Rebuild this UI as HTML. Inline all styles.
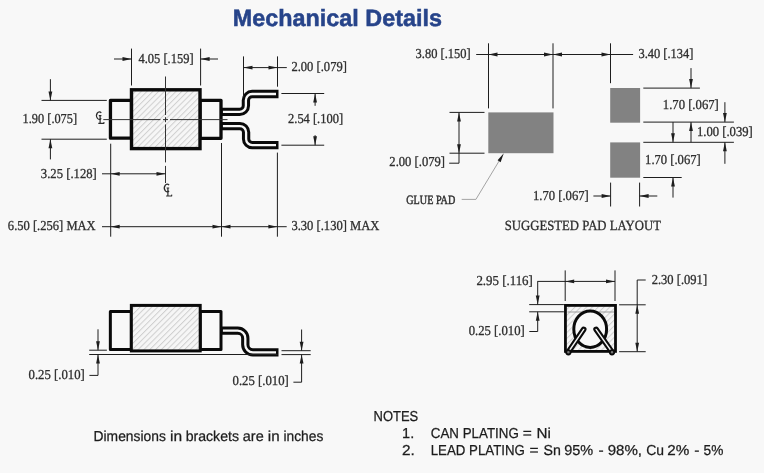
<!DOCTYPE html>
<html><head><meta charset="utf-8"><style>
html,body{margin:0;padding:0;background:#f8f8f8;width:764px;height:473px;overflow:hidden}
svg{display:block;will-change:transform;text-rendering:geometricPrecision}
</style></head><body>
<svg width="764" height="473" viewBox="0 0 764 473">
<defs>
<pattern id="hatch" patternUnits="userSpaceOnUse" width="4.1" height="4.1" patternTransform="rotate(45)">
<rect width="4.1" height="4.1" fill="#f6f6f6"/>
<line x1="0.5" y1="0" x2="0.5" y2="4.1" stroke="#cfcfcf" stroke-width="1"/>
</pattern>
</defs>
<rect width="764" height="473" fill="#f8f8f8"/>
<text transform="translate(232.82,25.9) scale(0.9945,1)" font-family="Liberation Sans" font-size="23.5" font-weight="bold" fill="#27448a" stroke="#27448a" stroke-width="0.5">Mechanical Details</text>
<path d="M 221.0 111.9 L 239.70 111.9 C 243.12 111.9 245.90 109.12 245.90 105.70 L 245.90 100.20 C 245.90 96.78 248.68 94.0 252.10 94.0 L 278.5 94.0" fill="none" stroke="#0a0a0a" stroke-width="8.3"/>
<path d="M 222.8 111.9 L 239.70 111.9 C 243.12 111.9 245.90 109.12 245.90 105.70 L 245.90 100.20 C 245.90 96.78 248.68 94.0 252.10 94.0 L 276.0 94.0" fill="none" stroke="#f8f8f8" stroke-width="2.3"/>
<path d="M 221.0 126.1 L 239.90 126.1 C 243.32 126.1 246.10 128.88 246.10 132.30 L 246.10 139.00 C 246.10 142.42 248.88 145.2 252.30 145.2 L 278.5 145.2" fill="none" stroke="#0a0a0a" stroke-width="8.3"/>
<path d="M 222.8 126.1 L 239.90 126.1 C 243.32 126.1 246.10 128.88 246.10 132.30 L 246.10 139.00 C 246.10 142.42 248.88 145.2 252.30 145.2 L 276.0 145.2" fill="none" stroke="#f8f8f8" stroke-width="2.3"/>
<rect x="110.45" y="100.3" width="21.05" height="37.9" fill="none" stroke="#0a0a0a" stroke-width="3.3" stroke-linejoin="round"/>
<rect x="200" y="100.3" width="21" height="38" fill="none" stroke="#0a0a0a" stroke-width="3.3" stroke-linejoin="round"/>
<rect x="131.5" y="89.8" width="68.5" height="58.8" fill="url(#hatch)" stroke="#0a0a0a" stroke-width="3.4"/>
<line x1="103.3" y1="119.6" x2="160.5" y2="119.6" stroke="#333" stroke-width="1" />
<line x1="163" y1="119.6" x2="168" y2="119.6" stroke="#333" stroke-width="1" />
<line x1="170" y1="119.6" x2="227.5" y2="119.6" stroke="#333" stroke-width="1" />
<line x1="165.5" y1="76.5" x2="165.5" y2="115" stroke="#333" stroke-width="1" />
<line x1="165.5" y1="117.2" x2="165.5" y2="122.2" stroke="#333" stroke-width="1" />
<line x1="165.5" y1="124.4" x2="165.5" y2="162.4" stroke="#333" stroke-width="1" />
<line x1="165.5" y1="165.9" x2="165.5" y2="183" stroke="#333" stroke-width="1" />
<g fill="none" stroke="#2a2a2a"><path d="M 101.27 112.78 A 2.8 3.8 0 1 0 101.27 118.42" stroke-width="1.25"/><path d="M 100.1 115.6 L 100.1 123.4 M 98.8 115.6 L 101.4 115.6" stroke-width="1.2"/><path d="M 98.3 123.4 L 103.8 123.4 L 104 122" stroke-width="1.1"/></g>
<g fill="none" stroke="#2a2a2a"><path d="M 169.07 185.18 A 2.8 3.8 0 1 0 169.07 190.82" stroke-width="1.25"/><path d="M 167.9 188 L 167.9 196 M 166.6 188 L 169.2 188" stroke-width="1.2"/><path d="M 166.1 196 L 171.6 196 L 171.8 194.6" stroke-width="1.1"/></g>
<line x1="131.5" y1="48.6" x2="131.5" y2="85.5" stroke="#1e1e1e" stroke-width="1" />
<line x1="200.6" y1="48.6" x2="200.6" y2="85.5" stroke="#1e1e1e" stroke-width="1" />
<line x1="114" y1="59" x2="131.5" y2="59" stroke="#1e1e1e" stroke-width="1" />
<polygon points="131.5,59 122.5,57.1 122.5,60.9" fill="#1e1e1e"/>
<line x1="218" y1="59" x2="200.6" y2="59" stroke="#1e1e1e" stroke-width="1" />
<polygon points="200.6,59 209.6,57.1 209.6,60.9" fill="#1e1e1e"/>
<text transform="translate(138.45,62.6) scale(0.9136,1)" font-family="Liberation Serif" font-size="13.7" fill="#2e2e2e" stroke="#2e2e2e" stroke-width="0.3">4.05 [.159]</text>
<line x1="243.5" y1="56.4" x2="243.5" y2="97" stroke="#1e1e1e" stroke-width="1" />
<line x1="277.5" y1="56.4" x2="277.5" y2="86.7" stroke="#1e1e1e" stroke-width="1" />
<line x1="243.5" y1="67.6" x2="286.8" y2="67.6" stroke="#1e1e1e" stroke-width="1" />
<polygon points="243.5,67.6 252.5,65.7 252.5,69.5" fill="#1e1e1e"/>
<polygon points="277.5,67.6 268.5,65.7 268.5,69.5" fill="#1e1e1e"/>
<text transform="translate(291.43,71.4) scale(0.9172,1)" font-family="Liberation Serif" font-size="13.7" fill="#2e2e2e" stroke="#2e2e2e" stroke-width="0.3">2.00 [.079]</text>
<line x1="41.5" y1="100.4" x2="106.8" y2="100.4" stroke="#1e1e1e" stroke-width="1" />
<line x1="41.5" y1="139.2" x2="106.8" y2="139.2" stroke="#1e1e1e" stroke-width="1" />
<line x1="50.4" y1="79.2" x2="50.4" y2="100.4" stroke="#1e1e1e" stroke-width="1" />
<polygon points="50.4,100.4 48.5,91.4 52.3,91.4" fill="#1e1e1e"/>
<line x1="50.4" y1="159.4" x2="50.4" y2="139.2" stroke="#1e1e1e" stroke-width="1" />
<polygon points="50.4,139.2 48.5,148.2 52.3,148.2" fill="#1e1e1e"/>
<text transform="translate(22.62,122.8) scale(0.9006,1)" font-family="Liberation Serif" font-size="13.7" fill="#2e2e2e" stroke="#2e2e2e" stroke-width="0.3">1.90 [.075]</text>
<line x1="281.4" y1="93.5" x2="324.2" y2="93.5" stroke="#1e1e1e" stroke-width="1" />
<line x1="281.4" y1="145.2" x2="324.2" y2="145.2" stroke="#1e1e1e" stroke-width="1" />
<line x1="315.1" y1="93.5" x2="315.1" y2="105.8" stroke="#1e1e1e" stroke-width="1" />
<polygon points="315.1,93.5 313.2,102.5 317,102.5" fill="#1e1e1e"/>
<line x1="315.1" y1="135.2" x2="315.1" y2="145.2" stroke="#1e1e1e" stroke-width="1" />
<polygon points="315.1,145.2 313.2,136.2 317,136.2" fill="#1e1e1e"/>
<text transform="translate(288.04,122.6) scale(0.9104,1)" font-family="Liberation Serif" font-size="13.7" fill="#2e2e2e" stroke="#2e2e2e" stroke-width="0.3">2.54 [.100]</text>
<line x1="110.7" y1="143.7" x2="110.7" y2="236.7" stroke="#1e1e1e" stroke-width="1" />
<line x1="221.5" y1="143" x2="221.5" y2="236.7" stroke="#1e1e1e" stroke-width="1" />
<line x1="277.4" y1="152.6" x2="277.4" y2="236.7" stroke="#1e1e1e" stroke-width="1" />
<line x1="102" y1="173.8" x2="165.5" y2="173.8" stroke="#1e1e1e" stroke-width="1" />
<polygon points="110.7,173.8 119.7,171.9 119.7,175.7" fill="#1e1e1e"/>
<polygon points="165.5,173.8 156.5,171.9 156.5,175.7" fill="#1e1e1e"/>
<text transform="translate(40.8,177.9) scale(0.9262,1)" font-family="Liberation Serif" font-size="13.7" fill="#2e2e2e" stroke="#2e2e2e" stroke-width="0.3">3.25 [.128]</text>
<line x1="102" y1="226.7" x2="286.7" y2="226.7" stroke="#1e1e1e" stroke-width="1" />
<polygon points="110.7,226.7 119.7,224.8 119.7,228.6" fill="#1e1e1e"/>
<polygon points="221.5,226.7 212.5,224.8 212.5,228.6" fill="#1e1e1e"/>
<polygon points="221.5,226.7 230.5,224.8 230.5,228.6" fill="#1e1e1e"/>
<polygon points="277.4,226.7 268.4,224.8 268.4,228.6" fill="#1e1e1e"/>
<text transform="translate(7.87,230.1) scale(0.9161,1)" font-family="Liberation Serif" font-size="13.7" fill="#2e2e2e" stroke="#2e2e2e" stroke-width="0.3">6.50 [.256] MAX</text>
<text transform="translate(291.4,230.3) scale(0.9178,1)" font-family="Liberation Serif" font-size="13.7" fill="#2e2e2e" stroke="#2e2e2e" stroke-width="0.3">3.30 [.130] MAX</text>
<rect x="488.3" y="112.4" width="65.2" height="40.8" fill="#828282"/>
<rect x="610.2" y="88.0" width="29.9" height="34.7" fill="#828282"/>
<rect x="610.2" y="142.4" width="29.9" height="35.3" fill="#828282"/>
<line x1="476.2" y1="54.5" x2="633.1" y2="54.5" stroke="#1e1e1e" stroke-width="1" />
<line x1="488.5" y1="43.3" x2="488.5" y2="108.4" stroke="#1e1e1e" stroke-width="1" />
<line x1="553" y1="43.3" x2="553" y2="108.4" stroke="#1e1e1e" stroke-width="1" />
<line x1="610.5" y1="43.3" x2="610.5" y2="83.2" stroke="#1e1e1e" stroke-width="1" />
<polygon points="488.5,54.5 497.5,52.6 497.5,56.4" fill="#1e1e1e"/>
<polygon points="553,54.5 544,52.6 544,56.4" fill="#1e1e1e"/>
<polygon points="553,54.5 562,52.6 562,56.4" fill="#1e1e1e"/>
<polygon points="610.5,54.5 601.5,52.6 601.5,56.4" fill="#1e1e1e"/>
<text transform="translate(415.61,58.1) scale(0.9109,1)" font-family="Liberation Serif" font-size="13.7" fill="#2e2e2e" stroke="#2e2e2e" stroke-width="0.3">3.80 [.150]</text>
<text transform="translate(638.41,57.5) scale(0.9109,1)" font-family="Liberation Serif" font-size="13.7" fill="#2e2e2e" stroke="#2e2e2e" stroke-width="0.3">3.40 [.134]</text>
<line x1="449.5" y1="112.4" x2="484.5" y2="112.4" stroke="#1e1e1e" stroke-width="1" />
<line x1="449.5" y1="153.2" x2="484.5" y2="153.2" stroke="#1e1e1e" stroke-width="1" />
<line x1="459" y1="112.4" x2="459" y2="163.2" stroke="#1e1e1e" stroke-width="1" />
<polygon points="459,112.4 457.1,121.4 460.9,121.4" fill="#1e1e1e"/>
<polygon points="459,153.2 457.1,144.2 460.9,144.2" fill="#1e1e1e"/>
<line x1="449.2" y1="163.2" x2="459" y2="163.2" stroke="#1e1e1e" stroke-width="1" />
<text transform="translate(389.33,166.3) scale(0.9206,1)" font-family="Liberation Serif" font-size="13.7" fill="#2e2e2e" stroke="#2e2e2e" stroke-width="0.3">2.00 [.079]</text>
<line x1="643.3" y1="88.1" x2="699.9" y2="88.1" stroke="#1e1e1e" stroke-width="1" />
<line x1="643.3" y1="122.1" x2="733.9" y2="122.1" stroke="#1e1e1e" stroke-width="1" />
<line x1="643.3" y1="142.3" x2="733.9" y2="142.3" stroke="#1e1e1e" stroke-width="1" />
<line x1="643.3" y1="177.5" x2="681.7" y2="177.5" stroke="#1e1e1e" stroke-width="1" />
<line x1="691" y1="68.1" x2="691" y2="88.1" stroke="#1e1e1e" stroke-width="1" />
<polygon points="691,88.1 689.1,79.1 692.9,79.1" fill="#1e1e1e"/>
<line x1="691" y1="142.3" x2="691" y2="122.1" stroke="#1e1e1e" stroke-width="1" />
<polygon points="691,122.1 689.1,131.1 692.9,131.1" fill="#1e1e1e"/>
<text transform="translate(662.79,108.6) scale(0.9263,1)" font-family="Liberation Serif" font-size="13.7" fill="#2e2e2e" stroke="#2e2e2e" stroke-width="0.3">1.70 [.067]</text>
<line x1="724.9" y1="102.2" x2="724.9" y2="122.1" stroke="#1e1e1e" stroke-width="1" />
<polygon points="724.9,122.1 723,113.1 726.8,113.1" fill="#1e1e1e"/>
<line x1="724.9" y1="163.8" x2="724.9" y2="142.3" stroke="#1e1e1e" stroke-width="1" />
<polygon points="724.9,142.3 723,151.3 726.8,151.3" fill="#1e1e1e"/>
<text transform="translate(696.89,135.6) scale(0.9246,1)" font-family="Liberation Serif" font-size="13.7" fill="#2e2e2e" stroke="#2e2e2e" stroke-width="0.3">1.00 [.039]</text>
<line x1="673" y1="122.1" x2="673" y2="142.3" stroke="#1e1e1e" stroke-width="1" />
<polygon points="673,142.3 671.1,133.3 674.9,133.3" fill="#1e1e1e"/>
<line x1="673" y1="197.6" x2="673" y2="177.5" stroke="#1e1e1e" stroke-width="1" />
<polygon points="673,177.5 671.1,186.5 674.9,186.5" fill="#1e1e1e"/>
<text transform="translate(645.1,163.7) scale(0.9195,1)" font-family="Liberation Serif" font-size="13.7" fill="#2e2e2e" stroke="#2e2e2e" stroke-width="0.3">1.70 [.067]</text>
<line x1="610.6" y1="182.6" x2="610.6" y2="206.5" stroke="#1e1e1e" stroke-width="1" />
<line x1="639.6" y1="182.6" x2="639.6" y2="206.5" stroke="#1e1e1e" stroke-width="1" />
<line x1="593.4" y1="196" x2="610.6" y2="196" stroke="#1e1e1e" stroke-width="1" />
<polygon points="610.6,196 601.6,194.1 601.6,197.9" fill="#1e1e1e"/>
<line x1="657.3" y1="196" x2="639.6" y2="196" stroke="#1e1e1e" stroke-width="1" />
<polygon points="639.6,196 648.6,194.1 648.6,197.9" fill="#1e1e1e"/>
<text transform="translate(532.89,199.5) scale(0.9246,1)" font-family="Liberation Serif" font-size="13.7" fill="#2e2e2e" stroke="#2e2e2e" stroke-width="0.3">1.70 [.067]</text>
<polyline points="461.7,199.4 475.9,199.4 501.5,157" fill="none" stroke="#9a9a9a" stroke-width="0.9"/>
<polygon points="503.8,153.3 497.6,160.3 500.6,162.2" fill="#1a1a1a"/>
<text transform="translate(406.29,203.6) scale(0.7998,1)" font-family="Liberation Serif" font-size="12.7" fill="#2e2e2e" stroke="#2e2e2e" stroke-width="0.45">GLUE PAD</text>
<text transform="translate(504.74,230.2) scale(0.9098,1)" font-family="Liberation Serif" font-size="14" fill="#2e2e2e" stroke="#2e2e2e" stroke-width="0.3">SUGGESTED PAD LAYOUT</text>
<path d="M 221.0 330.65 L 237.70 330.65 C 241.90 330.65 245.30 334.05 245.30 338.25 L 245.30 344.80 C 245.30 349.00 248.70 352.4 252.90 352.4 L 278.5 352.4" fill="none" stroke="#0a0a0a" stroke-width="8.3"/>
<path d="M 222.8 330.65 L 237.70 330.65 C 241.90 330.65 245.30 334.05 245.30 338.25 L 245.30 344.80 C 245.30 349.00 248.70 352.4 252.90 352.4 L 276.0 352.4" fill="none" stroke="#f8f8f8" stroke-width="2.3"/>
<rect x="110.35" y="311.6" width="21" height="37.85" fill="none" stroke="#0a0a0a" stroke-width="3" stroke-linejoin="round"/>
<rect x="200.2" y="311.6" width="20.8" height="37.85" fill="none" stroke="#0a0a0a" stroke-width="3" stroke-linejoin="round"/>
<rect x="131.35" y="305.4" width="68.85" height="45.5" fill="url(#hatch)" stroke="#0a0a0a" stroke-width="3"/>
<line x1="89.2" y1="354.5" x2="277.7" y2="354.5" stroke="#1e1e1e" stroke-width="1" />
<line x1="89.2" y1="350.2" x2="106.9" y2="350.2" stroke="#1e1e1e" stroke-width="1" />
<line x1="98" y1="329.3" x2="98" y2="350.2" stroke="#1e1e1e" stroke-width="1" />
<polygon points="98,350.2 96.1,341.2 99.9,341.2" fill="#1e1e1e"/>
<line x1="98" y1="375.4" x2="98" y2="354.5" stroke="#1e1e1e" stroke-width="1" />
<polygon points="98,354.5 96.1,363.5 99.9,363.5" fill="#1e1e1e"/>
<line x1="89.4" y1="375.4" x2="98" y2="375.4" stroke="#1e1e1e" stroke-width="1" />
<text transform="translate(28.52,378.5) scale(0.9308,1)" font-family="Liberation Serif" font-size="13.7" fill="#2e2e2e" stroke="#2e2e2e" stroke-width="0.3">0.25 [.010]</text>
<line x1="281.5" y1="350.7" x2="310.7" y2="350.7" stroke="#1e1e1e" stroke-width="1" />
<line x1="281.5" y1="354.6" x2="310.7" y2="354.6" stroke="#1e1e1e" stroke-width="1" />
<line x1="301.6" y1="329.5" x2="301.6" y2="350.7" stroke="#1e1e1e" stroke-width="1" />
<polygon points="301.6,350.7 299.7,341.7 303.5,341.7" fill="#1e1e1e"/>
<line x1="301.6" y1="382.2" x2="301.6" y2="354.6" stroke="#1e1e1e" stroke-width="1" />
<polygon points="301.6,354.6 299.7,363.6 303.5,363.6" fill="#1e1e1e"/>
<line x1="293.4" y1="382.2" x2="301.6" y2="382.2" stroke="#1e1e1e" stroke-width="1" />
<text transform="translate(232.52,385.3) scale(0.9308,1)" font-family="Liberation Serif" font-size="13.7" fill="#2e2e2e" stroke="#2e2e2e" stroke-width="0.3">0.25 [.010]</text>
<rect x="565.45" y="305.4" width="50.05" height="46" fill="url(#hatch)" stroke="#0a0a0a" stroke-width="2.8"/>
<line x1="567.5" y1="312" x2="614" y2="312" stroke="#9a9a9a" stroke-width="1" />
<ellipse cx="590.2" cy="329.2" rx="16.4" ry="18.2" fill="#f8f8f8" stroke="#0a0a0a" stroke-width="3"/>
<line x1="568.4" y1="352.0" x2="583.7" y2="329.4" stroke="#0a0a0a" stroke-width="5.6" stroke-linecap="round"/>
<line x1="612.0" y1="352.0" x2="596.1" y2="329.4" stroke="#0a0a0a" stroke-width="5.6" stroke-linecap="round"/>
<line x1="568.4" y1="352.0" x2="583.7" y2="329.4" stroke="#f2f2f2" stroke-width="1.4" stroke-linecap="round"/>
<line x1="612.0" y1="352.0" x2="596.1" y2="329.4" stroke="#f2f2f2" stroke-width="1.4" stroke-linecap="round"/>
<circle cx="568.4" cy="352.3" r="2.2" fill="#777" stroke="#0a0a0a" stroke-width="1.8"/>
<circle cx="612.0" cy="352.3" r="2.2" fill="#777" stroke="#0a0a0a" stroke-width="1.8"/>
<line x1="565.2" y1="270.4" x2="565.2" y2="301" stroke="#1e1e1e" stroke-width="1" />
<line x1="615" y1="270.4" x2="615" y2="301" stroke="#1e1e1e" stroke-width="1" />
<line x1="537.4" y1="281.4" x2="615" y2="281.4" stroke="#1e1e1e" stroke-width="1" />
<polygon points="565.2,281.4 574.2,279.5 574.2,283.3" fill="#1e1e1e"/>
<polygon points="615,281.4 606,279.5 606,283.3" fill="#1e1e1e"/>
<text transform="translate(476.42,284.8) scale(0.9407,1)" font-family="Liberation Serif" font-size="13.7" fill="#2e2e2e" stroke="#2e2e2e" stroke-width="0.3">2.95 [.116]</text>
<line x1="529.2" y1="304.6" x2="563.9" y2="304.6" stroke="#1e1e1e" stroke-width="1" />
<line x1="529.2" y1="311.8" x2="563.9" y2="311.8" stroke="#1e1e1e" stroke-width="1" />
<line x1="537.7" y1="281.4" x2="537.7" y2="304.6" stroke="#1e1e1e" stroke-width="1" />
<polygon points="537.7,304.6 535.8,295.6 539.6,295.6" fill="#1e1e1e"/>
<line x1="537.7" y1="331.5" x2="537.7" y2="311.8" stroke="#1e1e1e" stroke-width="1" />
<polygon points="537.7,311.8 535.8,320.8 539.6,320.8" fill="#1e1e1e"/>
<line x1="529.3" y1="331.5" x2="537.7" y2="331.5" stroke="#1e1e1e" stroke-width="1" />
<text transform="translate(468.72,334.8) scale(0.9275,1)" font-family="Liberation Serif" font-size="13.7" fill="#2e2e2e" stroke="#2e2e2e" stroke-width="0.3">0.25 [.010]</text>
<line x1="619.1" y1="304.8" x2="645.7" y2="304.8" stroke="#1e1e1e" stroke-width="1" />
<line x1="619.1" y1="351.7" x2="645.7" y2="351.7" stroke="#1e1e1e" stroke-width="1" />
<line x1="637.2" y1="280" x2="637.2" y2="351.7" stroke="#1e1e1e" stroke-width="1" />
<polygon points="637.2,304.8 635.3,313.8 639.1,313.8" fill="#1e1e1e"/>
<polygon points="637.2,351.7 635.3,342.7 639.1,342.7" fill="#1e1e1e"/>
<line x1="637.2" y1="280" x2="645.7" y2="280" stroke="#1e1e1e" stroke-width="1" />
<text transform="translate(651.63,284) scale(0.9172,1)" font-family="Liberation Serif" font-size="13.7" fill="#2e2e2e" stroke="#2e2e2e" stroke-width="0.3">2.30 [.091]</text>
<text transform="translate(93.56,440.6) scale(0.9613,1)" font-family="Liberation Sans" font-size="14.4" fill="#1c1c1c" stroke="#1c1c1c" stroke-width="0.25">Dimensions</text>
<text transform="translate(169.93,440.6) scale(1.0800,1)" font-family="Liberation Sans" font-size="14.4" fill="#1c1c1c" stroke="#1c1c1c" stroke-width="0.25">in</text>
<text transform="translate(185.68,440.6) scale(0.9794,1)" font-family="Liberation Sans" font-size="14.4" fill="#1c1c1c" stroke="#1c1c1c" stroke-width="0.25">brackets</text>
<text transform="translate(242.78,440.6) scale(1.0059,1)" font-family="Liberation Sans" font-size="14.4" fill="#1c1c1c" stroke="#1c1c1c" stroke-width="0.25">are</text>
<text transform="translate(267.77,440.6) scale(1.0551,1)" font-family="Liberation Sans" font-size="14.4" fill="#1c1c1c" stroke="#1c1c1c" stroke-width="0.25">in</text>
<text transform="translate(283.47,440.6) scale(0.9567,1)" font-family="Liberation Sans" font-size="14.4" fill="#1c1c1c" stroke="#1c1c1c" stroke-width="0.25">inches</text>
<text transform="translate(373.6,420.9) scale(0.9000,1)" font-family="Liberation Sans" font-size="14.4" fill="#1c1c1c" stroke="#1c1c1c" stroke-width="0.25">NOTES</text>
<text transform="translate(402.11,437.9) scale(1.0092,1)" font-family="Liberation Sans" font-size="14.4" fill="#1c1c1c" stroke="#1c1c1c" stroke-width="0.25">1.</text>
<text transform="translate(401.93,455.1) scale(1.0730,1)" font-family="Liberation Sans" font-size="14.4" fill="#1c1c1c" stroke="#1c1c1c" stroke-width="0.25">2.</text>
<text transform="translate(430.83,437.9) scale(0.9266,1)" font-family="Liberation Sans" font-size="14.4" fill="#1c1c1c" stroke="#1c1c1c" stroke-width="0.25">CAN PLATING</text>
<text transform="translate(522.8,437.9) scale(1.0800,1)" font-family="Liberation Sans" font-size="14.4" fill="#1c1c1c" stroke="#1c1c1c" stroke-width="0.25">=</text>
<text transform="translate(536.44,437.9) scale(1.0570,1)" font-family="Liberation Sans" font-size="14.4" fill="#1c1c1c" stroke="#1c1c1c" stroke-width="0.25">Ni</text>
<text transform="translate(430.7,455.1) scale(0.9219,1)" font-family="Liberation Sans" font-size="14.4" fill="#1c1c1c" stroke="#1c1c1c" stroke-width="0.25">LEAD PLATING</text>
<text transform="translate(529.5,455.1) scale(1.0800,1)" font-family="Liberation Sans" font-size="14.4" fill="#1c1c1c" stroke="#1c1c1c" stroke-width="0.25">=</text>
<text transform="translate(543.46,455.1) scale(0.9863,1)" font-family="Liberation Sans" font-size="14.4" fill="#1c1c1c" stroke="#1c1c1c" stroke-width="0.25">Sn</text>
<text transform="translate(564.21,455.1) scale(1.0068,1)" font-family="Liberation Sans" font-size="14.4" fill="#1c1c1c" stroke="#1c1c1c" stroke-width="0.25">95%</text>
<text transform="translate(598.46,455.1) scale(1.0800,1)" font-family="Liberation Sans" font-size="14.4" fill="#1c1c1c" stroke="#1c1c1c" stroke-width="0.25">-</text>
<text transform="translate(607.68,455.1) scale(1.0469,1)" font-family="Liberation Sans" font-size="14.4" fill="#1c1c1c" stroke="#1c1c1c" stroke-width="0.25">98%,</text>
<text transform="translate(646.2,455.1) scale(0.9677,1)" font-family="Liberation Sans" font-size="14.4" fill="#1c1c1c" stroke="#1c1c1c" stroke-width="0.25">Cu</text>
<text transform="translate(667.24,455.1) scale(1.0589,1)" font-family="Liberation Sans" font-size="14.4" fill="#1c1c1c" stroke="#1c1c1c" stroke-width="0.25">2%</text>
<text transform="translate(694.31,455.1) scale(1.0800,1)" font-family="Liberation Sans" font-size="14.4" fill="#1c1c1c" stroke="#1c1c1c" stroke-width="0.25">-</text>
<text transform="translate(703.55,455.1) scale(0.9496,1)" font-family="Liberation Sans" font-size="14.4" fill="#1c1c1c" stroke="#1c1c1c" stroke-width="0.25">5%</text>
</svg>
</body></html>
